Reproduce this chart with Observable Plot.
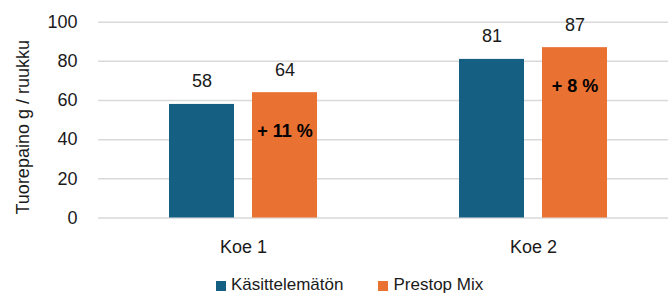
<!DOCTYPE html>
<html>
<head>
<meta charset="utf-8">
<script src="https://cdn.jsdelivr.net/npm/d3@7"></script>
<script src="https://cdn.jsdelivr.net/npm/@observablehq/plot@0.6"></script>
<style>
  body { margin: 0; background: #fff; font-family: "Liberation Sans", Arial, sans-serif; }
  #legend { display: flex; padding-left: 216px; padding-top: 13px; height: 18px; font-size: 17px; color: #1a1a1a; line-height: 19px; }
  .item { display: flex; align-items: center; margin-right: 35px; }
  .sw { width: 10px; height: 10px; margin-right: 5px; margin-top: 4px; }
</style>
</head>
<body>
<div id="chart"></div>
<div id="legend"></div>
<script>
const categories = ["Koe 1", "Koe 2"];
const series = ["Käsittelemätön", "Prestop Mix"];
const untreated = [58, 81];
const prestop = [64, 87];
const increases = ["+ 11 %", "+ 8 %"];
const yTicks = [0, 20, 40, 60, 80, 100];
const yTitle = "Tuorepaino g / ruukku";
const colors = ["#156082", "#E97132"];

const data = categories.flatMap((c, i) => [
  {koe: c, series: series[0], value: untreated[i]},
  {koe: c, series: series[1], value: prestop[i]}
]);
const pctData = categories.map((c, i) => ({koe: c, series: series[1], value: prestop[i], label: increases[i]}));

const chart = Plot.plot({
  width: 668,
  height: 262,
  marginLeft: 97,
  marginRight: 0,
  marginTop: 22,
  marginBottom: 44.5,
  style: {fontFamily: "'Liberation Sans', Arial, sans-serif", fontSize: "18px", color: "#1a1a1a", background: "white", overflow: "hidden"},
  fx: {domain: categories, range: [97, 678], padding: 0, axis: "bottom", label: null, tickSize: 0, tickPadding: 22},
  x: {domain: series, range: [168, 317], paddingInner: 0.216, paddingOuter: 0, axis: null},
  y: {domain: [0, 100], range: [217.5, 21.7], ticks: yTicks, tickSize: 0, tickPadding: 21, label: null},
  color: {domain: series, range: colors},
  marks: [
    Plot.ruleY(yTicks, {stroke: "#d9d9d9", strokeWidth: 1.5}),
    Plot.barY(data, {fx: "koe", x: "series", y: "value", fill: "series"}),
    Plot.text(data, {fx: "koe", x: "series", y: "value", text: d => String(d.value), dy: -22.8, fill: "#1a1a1a"}),
    Plot.text(pctData, {fx: "koe", x: "series", y: "value", text: "label", fontWeight: "bold", dy: 38.5, fill: "#000"}),
    Plot.text([yTitle], {fx: () => categories[0], frameAnchor: "left", textAnchor: "middle", rotate: -90, dx: -74.8, dy: 7, text: d => d, fill: "#1a1a1a"})
  ]
});
document.getElementById("chart").appendChild(chart);

const legend = document.getElementById("legend");
series.forEach((s, i) => {
  const item = document.createElement("div");
  item.className = "item";
  const sw = document.createElement("span");
  sw.className = "sw";
  sw.style.background = colors[i];
  const t = document.createElement("span");
  t.textContent = s;
  item.appendChild(sw);
  item.appendChild(t);
  legend.appendChild(item);
});
</script>
</body>
</html>
